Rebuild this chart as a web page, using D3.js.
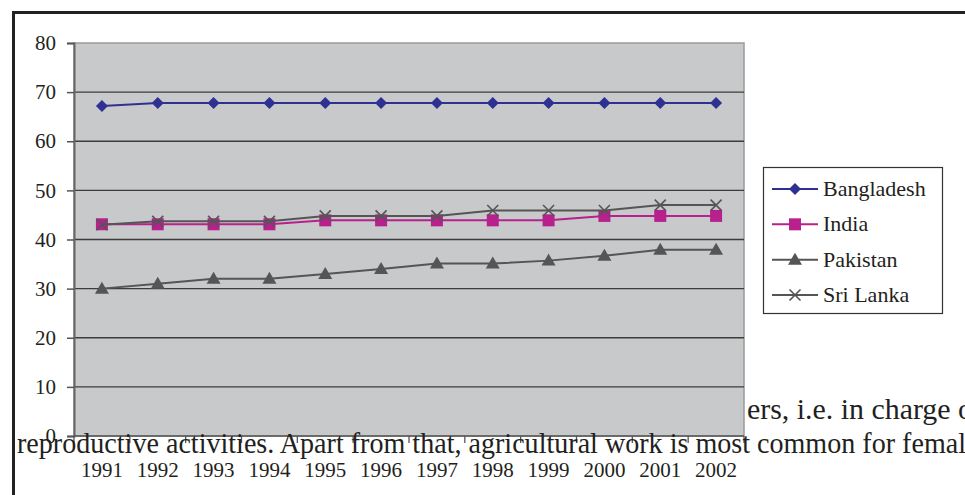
<!DOCTYPE html>
<html lang="en">
<head>
    <meta charset="UTF-8">
    <title>Female share chart</title>
    <script src="https://d3js.org/d3.v7.min.js"></script>
    <style>
        body { margin: 0; background: #fff; }
        svg { display: block; }
        text { font-family: "Liberation Serif", "Times New Roman", serif; fill: #231f20; }
    </style>
</head>
<body>
    <svg width="965" height="495"></svg>

    <script>
        // data
        const years = ["1991", "1992", "1993", "1994", "1995", "1996", "1997", "1998", "1999", "2000", "2001", "2002"];
        const bangladesh = [67.2, 67.8, 67.8, 67.8, 67.8, 67.8, 67.8, 67.8, 67.8, 67.8, 67.8, 67.8];
        const india = [43.1, 43.1, 43.1, 43.1, 43.9, 43.9, 43.9, 43.9, 43.9, 44.8, 44.8, 44.8];
        const pakistan = [30, 31, 32, 32, 33, 34, 35.1, 35.1, 35.7, 36.7, 37.9, 37.9];
        const sriLanka = [43, 43.7, 43.7, 43.7, 44.8, 44.8, 44.8, 45.9, 45.9, 45.9, 47, 47];
        const yTicks = [0, 10, 20, 30, 40, 50, 60, 70, 80];

        const series = [
            { name: "Bangladesh", values: bangladesh, color: "#2e3192", marker: "diamond" },
            { name: "India", values: india, color: "#b7208d", marker: "square" },
            { name: "Pakistan", values: pakistan, color: "#555555", marker: "triangle" },
            { name: "Sri Lanka", values: sriLanka, color: "#555555", marker: "cross" }
        ];

        const serif = "'Liberation Serif', 'Times New Roman', serif";

        const svg = d3.select("svg");
        const plot = { left: 74, right: 744, top: 43, bottom: 436 };

        const x = d3.scaleBand().domain(years).range([plot.left, plot.right]);
        const y = d3.scaleLinear().domain([0, 80]).range([plot.bottom, plot.top]);

        // document text behind the chart (first line)
        svg.append("text")
            .attr("x", 747).attr("y", 419)
            .attr("font-size", 30)
            .attr("textLength", 226).attr("lengthAdjust", "spacingAndGlyphs")
            .style("font-family", serif)
            .text("ers, i.e. in charge o");

        // outer frame
        svg.append("path")
            .attr("d", "M13.5,495 V12.5 H965")
            .attr("fill", "none")
            .attr("stroke", "#222")
            .attr("stroke-width", 3);

        // plot area
        svg.append("rect")
            .attr("x", plot.left).attr("y", plot.top)
            .attr("width", plot.right - plot.left).attr("height", plot.bottom - plot.top)
            .attr("fill", "#c8c9cb")
            .attr("stroke", "#9a9a9a")
            .attr("stroke-width", 1.5);

        // gridlines
        svg.append("g")
            .selectAll("line")
            .data(yTicks.filter(d => d > 0 && d < 80))
            .enter().append("line")
            .attr("x1", plot.left).attr("x2", plot.right)
            .attr("y1", d => y(d)).attr("y2", d => y(d))
            .attr("stroke", "#3c3c3c")
            .attr("stroke-width", 1.4);

        // y axis
        const yAxis = svg.append("g")
            .attr("transform", `translate(${plot.left},0)`)
            .call(d3.axisLeft(y).tickValues(yTicks).tickSize(7).tickPadding(11));
        yAxis.select(".domain").attr("stroke", "#666").attr("stroke-width", 2);
        yAxis.selectAll(".tick line").attr("stroke", "#555").attr("stroke-width", 1.5);
        yAxis.selectAll("text")
            .attr("font-size", 21)
            .style("font-family", serif)
            .attr("fill", "#231f20");

        // x axis: baseline, boundary ticks, labels
        svg.append("line")
            .attr("x1", plot.left).attr("x2", plot.right)
            .attr("y1", plot.bottom).attr("y2", plot.bottom)
            .attr("stroke", "#555").attr("stroke-width", 1.5);

        svg.append("g")
            .selectAll("line")
            .data(d3.range(years.length + 1))
            .enter().append("line")
            .attr("x1", i => x.range()[0] + i * x.step())
            .attr("x2", i => x.range()[0] + i * x.step())
            .attr("y1", plot.bottom).attr("y2", plot.bottom + 7)
            .attr("stroke", "#555").attr("stroke-width", 1.3);

        const xAxis = svg.append("g")
            .attr("transform", `translate(0,${plot.bottom})`)
            .call(d3.axisBottom(x).tickSize(0));
        xAxis.select(".domain").remove();
        xAxis.selectAll("text")
            .attr("y", 41).attr("dy", null)
            .attr("font-size", 21)
            .style("font-family", serif)
            .attr("fill", "#231f20");

        // marker shapes
        function markerPath(type) {
            if (type === "diamond") return "M0,-6 L6,0 L0,6 L-6,0 Z";
            if (type === "square") return "M-6,-6 H6 V6 H-6 Z";
            if (type === "triangle") return "M0,-7 L7,5 L-7,5 Z";
            return "M-5.5,-5.5 L5.5,5.5 M-5.5,5.5 L5.5,-5.5";
        }

        function drawMarker(g, s) {
            const p = g.append("path").attr("d", markerPath(s.marker));
            if (s.marker === "cross") {
                p.attr("fill", "none").attr("stroke", s.color).attr("stroke-width", 1.6);
            } else {
                p.attr("fill", s.color);
            }
        }

        const line = d3.line()
            .x((d, i) => x(years[i]) + x.bandwidth() / 2)
            .y(d => y(d));

        // draw Pakistan, India, Sri Lanka, Bangladesh so the crosses sit on the squares
        const order = [series[2], series[1], series[3], series[0]];
        order.forEach(s => {
            const g = svg.append("g");
            g.append("path")
                .attr("d", line(s.values))
                .attr("fill", "none")
                .attr("stroke", s.color)
                .attr("stroke-width", 2);
            s.values.forEach((v, i) => {
                const m = g.append("g")
                    .attr("transform", `translate(${x(years[i]) + x.bandwidth() / 2},${y(v)})`);
                drawMarker(m, s);
            });
        });

        // legend
        const legend = svg.append("g").attr("transform", "translate(763,167)");
        legend.append("rect")
            .attr("x", 0.5).attr("y", 0.5)
            .attr("width", 179).attr("height", 146)
            .attr("fill", "#fff")
            .attr("stroke", "#333")
            .attr("stroke-width", 1.2);

        const legendY = d3.scalePoint().domain(series.map(s => s.name)).range([22, 128]);
        series.forEach(s => {
            const row = legend.append("g").attr("transform", `translate(0,${legendY(s.name)})`);
            row.append("line")
                .attr("x1", 9).attr("x2", 55)
                .attr("stroke", s.color).attr("stroke-width", 2);
            const m = row.append("g").attr("transform", "translate(32,0)");
            drawMarker(m, s);
            row.append("text")
                .attr("x", 60).attr("y", 7)
                .attr("font-size", 22)
                .style("font-family", serif)
                .text(s.name);
        });

        // document text over the chart (second line)
        svg.append("text")
            .attr("x", 17).attr("y", 453)
            .attr("font-size", 30)
            .attr("textLength", 949).attr("lengthAdjust", "spacingAndGlyphs")
            .style("font-family", serif)
            .text("reproductive activities. Apart from that, agricultural work is most common for femal");
    </script>
</body>
</html>
